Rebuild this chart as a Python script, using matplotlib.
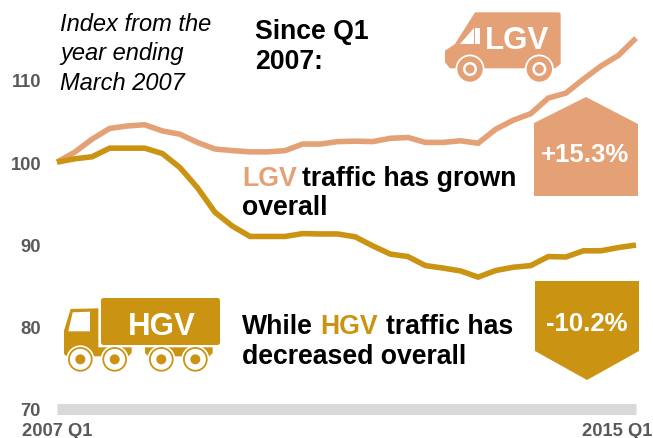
import matplotlib
matplotlib.use("Agg")
import matplotlib.pyplot as plt
from matplotlib.patches import Polygon, Circle, FancyBboxPatch
from matplotlib.transforms import ScaledTranslation

plt.rcParams['font.family'] = ['Liberation Sans', 'DejaVu Sans']

quarter_index = list(range(34))
lgv = [100, 101.2, 102.8, 104.1, 104.4, 104.55, 103.8, 103.4, 102.4, 101.6, 101.4, 101.25,
       101.25, 101.4, 102.2, 102.2, 102.5, 102.55, 102.5, 102.9, 103, 102.4, 102.4, 102.6,
       102.3, 104, 105.1, 105.9, 107.8, 108.4, 110.1, 111.7, 113, 115.1]
hgv = [100, 100.4, 100.65, 101.7, 101.7, 101.7, 101.05, 99.35, 96.9, 93.9, 92.2, 90.95,
       90.95, 90.95, 91.3, 91.25, 91.25, 90.9, 89.8, 88.8, 88.5, 87.4, 87.1, 86.75,
       86, 86.8, 87.2, 87.4, 88.5, 88.45, 89.2, 89.2, 89.6, 89.9]
y_ticks = [70, 80, 90, 100, 110]
x_ticks = [0, 33]
x_labels = ['2007 Q1', '2015 Q1']

LGV_C = '#E5A176'
HGV_C = '#CA9312'
GREY = '#595959'
W, H = 653, 439

fig = plt.figure(figsize=(W / 100, H / 100), dpi=100, facecolor='white')
L, R, T, B = 57, 636, 81, 409.5
ax = fig.add_axes([L / W, 1 - B / H, (R - L) / W, (B - T) / H])
ax.patch.set_alpha(0)
ax.set_xlim(0, 33)
ax.set_ylim(70, 110)
for s in ['top', 'left', 'right']:
    ax.spines[s].set_visible(False)
ax.spines['bottom'].set_color('#D9D9D9')
ax.spines['bottom'].set_linewidth(8)
ax.spines['bottom'].set_capstyle('butt')
ax.plot(quarter_index, lgv, color=LGV_C, lw=4, clip_on=False, solid_joinstyle='miter', solid_capstyle='butt', zorder=3)
ax.plot(quarter_index, hgv, color=HGV_C, lw=4, clip_on=False, solid_joinstyle='miter', solid_capstyle='butt', zorder=4)
ax.set_yticks(y_ticks)
ax.set_yticklabels([str(v) for v in y_ticks], fontsize=13.2, fontweight='bold', color=GREY)
ax.tick_params(axis='y', length=0, pad=11.5)
ax.set_xticks(x_ticks)
ax.set_xticklabels(x_labels, fontsize=13.2, fontweight='bold', color=GREY)
ax.tick_params(axis='x', length=0, pad=9.5)
labs = ax.get_xticklabels()
labs[1].set_transform(labs[1].get_transform() + ScaledTranslation(-19 / 100, 0, fig.dpi_scale_trans))

ov = fig.add_axes([0, 0, 1, 1])
ov.set_xlim(0, W)
ov.set_ylim(H, 0)
ov.axis('off')
ov.patch.set_alpha(0)
ov.set_zorder(5)

def t(x, y, s, **kw):
    kw.setdefault('fontsize', 19.2)
    kw.setdefault('fontweight', 'bold')
    kw.setdefault('color', 'black')
    kw.setdefault('va', 'baseline')
    ov.text(x, y, s, **kw)

for y, s in zip([31, 60, 90], ['Index from the', 'year ending', 'March 2007']):
    t(60, y, s, fontsize=17, fontweight='normal', style='italic')
t(255, 39, 'Since Q1')
t(255, 69, '2007:')
t(242, 186, 'LGV', color=LGV_C)
t(302, 186, 'traffic has grown')
t(242, 215, 'overall')
t(242, 334, 'While')
t(320, 334, 'HGV', color=HGV_C)
t(386, 334, 'traffic has')
t(242, 364, 'decreased overall')

ov.add_patch(Polygon([(534, 124), (586, 98), (638, 125), (638, 197), (534, 197)], fc=LGV_C, ec='none'))
ov.add_patch(Polygon([(535, 282), (639, 282), (639, 352), (587, 381), (535, 352)], fc=HGV_C, ec='none'))
t(584.5, 162, '+15.3%', color='white', ha='center', fontsize=18.5)
t(587, 331, '-10.2%', color='white', ha='center', fontsize=18.5)

def z2(pts):
    return [(420 + x / 3, y / 3) for x, y in pts]
ov.add_patch(Polygon(z2([(165, 40), (418, 40), (422, 44), (422, 195), (405, 208), (90, 208), (75, 190),
                         (75, 155), (105, 135)]), fc=LGV_C, ec='none'))
ov.add_patch(Polygon(z2([(162, 87), (162, 135), (120, 135)]), fc='white', ec='none'))
ov.add_patch(Polygon(z2([(166, 87), (180, 87), (180, 135), (166, 135)]), fc='white', ec='none'))
for cx in [150, 358]:
    c = (420 + cx / 3, 210 / 3)
    ov.add_patch(Circle(c, 14.5, fc='white', ec='none'))
    ov.add_patch(Circle(c, 12.7, fc=LGV_C, ec='none'))
    ov.add_patch(Circle(c, 7, fc='white', ec='none'))
    ov.add_patch(Circle(c, 4.5, fc=LGV_C, ec='none'))
t(517.5, 49, 'LGV', color='white', ha='center', fontsize=22.5)

def z1(pts):
    return [(x / 3, 280 + y / 3) for x, y in pts]
ov.add_patch(Polygon(z1([(192, 155), (212, 90), (295, 88), (295, 205), (395, 205), (395, 222), (385, 232),
                         (200, 232), (192, 225)]), fc=HGV_C, ec='none'))
ov.add_patch(Polygon(z1([(435, 205), (638, 205), (638, 222), (628, 232), (445, 232), (435, 222)]), fc=HGV_C, ec='none'))
ov.add_patch(Polygon(z1([(218, 100), (270, 98), (270, 157), (205, 157)]), fc='white', ec='none'))
ov.add_patch(FancyBboxPatch((103.5, 301.5), 114, 42, boxstyle='round,pad=0,rounding_size=0.01',
                            fc=HGV_C, ec=HGV_C, lw=3.6, joinstyle='round'))
for cx in [241, 344, 484, 586]:
    c = (cx / 3, 280 + 241 / 3)
    ov.add_patch(Circle(c, 14, fc='white', ec='none'))
    ov.add_patch(Circle(c, 12.3, fc=HGV_C, ec='none'))
    ov.add_patch(Circle(c, 10.5, fc='white', ec='none'))
    ov.add_patch(Circle(c, 5, fc=HGV_C, ec='none'))
t(162, 335, 'HGV', color='white', ha='center', fontsize=22.5)

fig.savefig('out.png', dpi=100)
